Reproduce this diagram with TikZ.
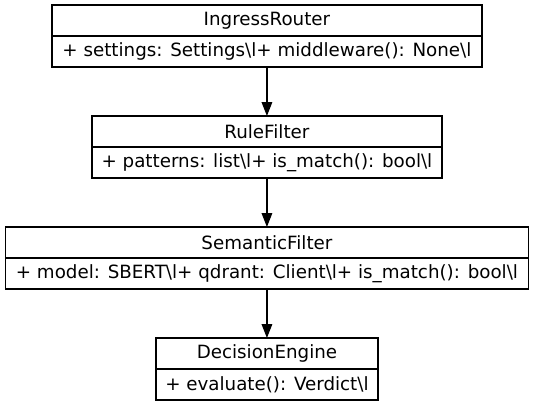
\documentclass[tikz,border=0pt]{standalone}
\usepackage{fontspec}
\setmainfont{DejaVu Sans}
\usetikzlibrary{positioning,arrows.meta}
\begin{document}
\begin{tikzpicture}[
  row/.style={draw,line width=0.9pt,outer sep=0pt,inner sep=0pt,minimum height=23.25pt,font=\fontsize{13.7}{15}\selectfont},
  link/.style={line width=0.9pt,-{Triangle[length=10.5pt,width=8pt]}}]
\useasboundingbox (0,0) rectangle (401.25pt,-303.75pt);
\node[row,minimum width=322.5pt,anchor=north] (ingress) at (200.2pt,-3.75pt) {IngressRouter};
\node[row,minimum width=322.5pt,below=0pt of ingress] (ingressbody) {+ settings: Settings\textbackslash l+ middleware(): None\textbackslash l};
\node[row,minimum width=262.5pt,below=36.75pt of ingressbody] (rule) {RuleFilter};
\node[row,minimum width=262.5pt,below=0pt of rule] (rulebody) {+ patterns: list\textbackslash l+ is\_match(): bool\textbackslash l};
\node[row,minimum width=392.25pt,below=36.75pt of rulebody] (semantic) {SemanticFilter};
\node[row,minimum width=392.25pt,below=0pt of semantic] (semanticbody) {+ model: SBERT\textbackslash l+ qdrant: Client\textbackslash l+ is\_match(): bool\textbackslash l};
\node[row,minimum width=166.5pt,below=36.75pt of semanticbody] (decision) {DecisionEngine};
\node[row,minimum width=166.5pt,below=0pt of decision] (decisionbody) {+ evaluate(): Verdict\textbackslash l};
\draw[link] (ingressbody) -- (rule);
\draw[link] (rulebody) -- (semantic);
\draw[link] (semanticbody) -- (decision);
\end{tikzpicture}
\end{document}
